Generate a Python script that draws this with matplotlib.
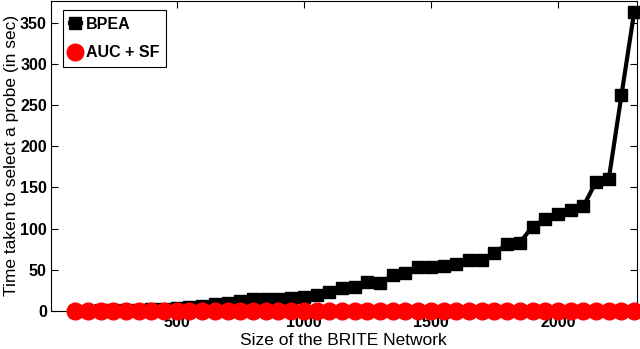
import numpy as np
import matplotlib
matplotlib.use('Agg')
import matplotlib.pyplot as plt

# network size (x) and selection time in seconds
sizes = list(range(100, 2301, 50))
bpea = [0.3, 0.5, 0.7, 0.9, 1.2, 1.5, 2.0, 2.6, 3.2, 4.5,
        6.4, 8.0, 9.3, 12.5, 14.5, 14.5, 14.5, 16.0, 17.3, 20.0,
        23.0, 27.4, 29.4, 34.7, 34.2, 43.5, 46.3, 53.2, 54.0, 55.2,
        57.2, 62.5, 62.5, 70.5, 81.4, 83.1, 102.4, 112.0, 117.7, 123.0,
        127.0, 157.0, 160.0, 262.0, 363.0]
auc_sf = [0.5] * len(sizes)

plt.rcParams['font.family'] = ['Liberation Sans', 'DejaVu Sans']

fig = plt.figure(figsize=(6.4, 3.49), dpi=100)
ax = fig.add_axes([51/640, 1 - 311/349, (636.7 - 51)/640, 310.5/349])

ax.plot(sizes, bpea, 's-', color='black', lw=3, ms=8.5, label='BPEA', clip_on=False, zorder=3)
ax.plot(sizes, auc_sf, 'o-', color='red', lw=2.5, ms=12, label='AUC + SF', clip_on=False, zorder=4)

ax.set_xlim(5, 2310)
ax.set_ylim(0, 377)
ax.set_xticks([500, 1000, 1500, 2000])
ax.set_yticks(np.arange(0, 351, 50))
ax.tick_params(direction='in', top=True, right=True, length=5, width=0.8, labelsize=11.5, pad=3)
for lab in ax.get_xticklabels() + ax.get_yticklabels():
    lab.set_fontweight('bold')
for s in ax.spines.values():
    s.set_linewidth(0.8)

ax.set_xlabel('Size of the BRITE Network', fontsize=12.5, labelpad=2)
ax.set_ylabel('Time taken to select a probe (in sec)', fontsize=12.5, labelpad=1)

leg = ax.legend(loc='upper left', bbox_to_anchor=(0.021, 0.968), borderaxespad=0,
                prop={'weight': 'bold', 'size': 11.5},
                handlelength=0.7, handletextpad=0.3, borderpad=0.4, labelspacing=0.85,
                fancybox=False, edgecolor='black', framealpha=1)
leg.get_frame().set_linewidth(0.8)

plt.savefig('out.png', dpi=100)
